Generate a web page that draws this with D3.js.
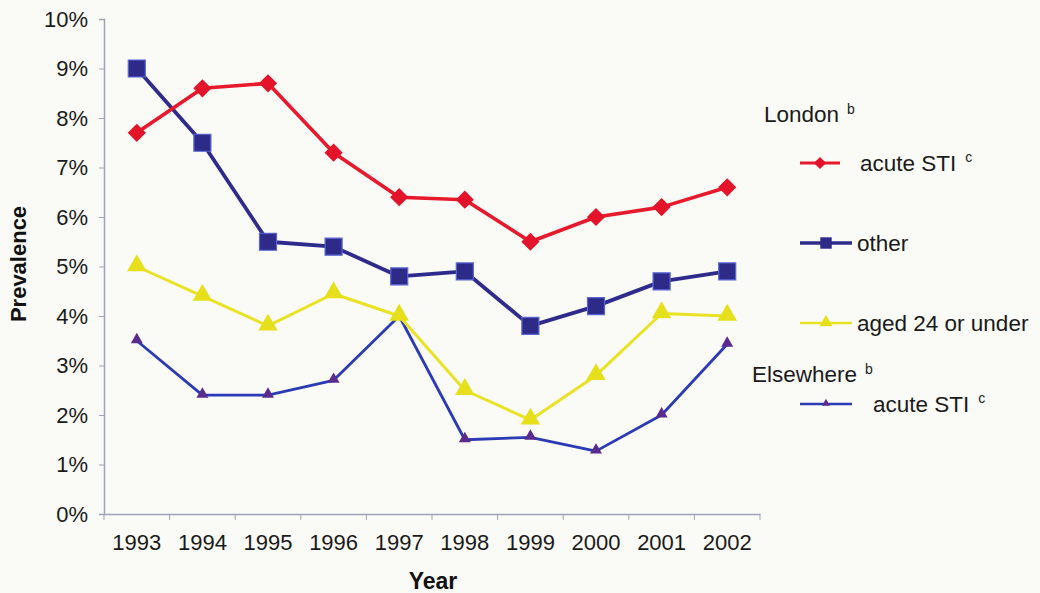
<!DOCTYPE html>
<html>
<head>
<meta charset="utf-8">
<script src="https://cdn.jsdelivr.net/npm/d3@7"></script>
<style>
  html, body { margin: 0; padding: 0; background: #fafaf6; }
  svg { display: block; font-family: "Liberation Sans", Arial, sans-serif; }
</style>
</head>
<body>
<svg id="chart" width="1040" height="593"></svg>
<script>
// Prevalence (%) by year
const years = ["1993","1994","1995","1996","1997","1998","1999","2000","2001","2002"];
const londonAcute = [7.7, 8.6, 8.7, 7.3, 6.4, 6.35, 5.5, 6.0, 6.2, 6.6];
const londonOther = [9.0, 7.5, 5.5, 5.4, 4.8, 4.9, 3.8, 4.2, 4.7, 4.9];
const londonYoung = [5.0, 4.4, 3.8, 4.45, 4.0, 2.5, 1.9, 2.8, 4.05, 4.0];
const elsewhereAcute = [3.5, 2.4, 2.4, 2.7, 4.0, 1.5, 1.55, 1.27, 2.0, 3.43];
const yTicks = [0, 1, 2, 3, 4, 5, 6, 7, 8, 9, 10];

const svg = d3.select("#chart");
const x = d3.scaleBand().domain(years).range([104, 760]);
const y = d3.scaleLinear().domain([0, 10]).range([514, 19]);
const axisColor = "#9ea3b9";

// y axis
const yAxis = svg.append("g").attr("transform", "translate(104,0)")
  .call(d3.axisLeft(y).tickValues(yTicks).tickFormat(d => d + "%").tickSize(5).tickPadding(11));
// x axis with ticks between categories
const xAxis = svg.append("g").attr("transform", "translate(0,514)")
  .call(d3.axisBottom(x).tickSize(0).tickPadding(20));
xAxis.selectAll(".tick").append("line")
  .attr("x1", -x.bandwidth() / 2).attr("x2", -x.bandwidth() / 2)
  .attr("y1", 0).attr("y2", 6).attr("stroke", axisColor);
xAxis.append("line")
  .attr("x1", x.range()[1]).attr("x2", x.range()[1])
  .attr("y1", 0).attr("y2", 6).attr("stroke", axisColor);
[yAxis, xAxis].forEach(g => {
  g.selectAll("path.domain").attr("stroke", axisColor).attr("stroke-width", 1.5);
  g.selectAll(".tick line").attr("stroke", axisColor);
  g.selectAll("text").attr("fill", "#1a1a1a").style("font-size", "22px")
    .style("font-family", "'Liberation Sans', Arial, sans-serif");
});

// axis titles
svg.append("text").attr("transform", "translate(26,264) rotate(-90)")
  .attr("text-anchor", "middle").attr("font-weight", "bold").attr("font-size", 22)
  .attr("fill", "#111").text("Prevalence");
svg.append("text").attr("x", 433).attr("y", 589)
  .attr("text-anchor", "middle").attr("font-weight", "bold").attr("font-size", 23)
  .attr("fill", "#111").text("Year");

const cx = (d, i) => x(years[i]) + x.bandwidth() / 2;
const line = d3.line().x((d, i) => cx(d, i)).y(d => y(d));

function drawSeries(values, opts) {
  const g = svg.append("g");
  g.append("path").datum(values).attr("d", line)
    .attr("fill", "none").attr("stroke", opts.stroke).attr("stroke-width", opts.width)
    .attr("stroke-linejoin", "round");
  g.selectAll("path.mk").data(values).join("path").attr("class", "mk")
    .attr("transform", (d, i) => `translate(${cx(d, i)},${y(d) + (opts.dy || 0)}) rotate(${opts.rotate || 0})`)
    .attr("d", d3.symbol().type(opts.symbol).size(opts.size))
    .attr("fill", opts.fill).attr("stroke", opts.markStroke || "none")
    .attr("stroke-width", opts.markStrokeWidth || 0);
}

const styles = {
  other: { stroke: "#2f2b8c", width: 3.8, symbol: d3.symbolSquare, size: 290, fill: "#2d2a88", markStroke: "#5a66d6", markStrokeWidth: 1.2 },
  young: { stroke: "#e9e225", width: 3, symbol: d3.symbolTriangle, size: 165, fill: "#e6df1c", dy: -1 },
  acute: { stroke: "#e8192c", width: 3.6, symbol: d3.symbolSquare, size: 165, fill: "#e3142a", rotate: 45 },
  elsewhere: { stroke: "#2b3ab5", width: 2.8, symbol: d3.symbolTriangle, size: 62, fill: "#5b2a8f", dy: -1 }
};

drawSeries(elsewhereAcute, styles.elsewhere);
drawSeries(londonYoung, styles.young);
drawSeries(londonOther, styles.other);
drawSeries(londonAcute, styles.acute);

// legend
const legend = svg.append("g").attr("font-size", 22.5).attr("fill", "#1a1a1a");
function heading(xp, yp, label) {
  const t = legend.append("text").attr("x", xp).attr("y", yp);
  t.append("tspan").text(label);
  t.append("tspan").attr("dx", 8).attr("dy", -8).attr("font-size", 14).text("b");
}
function item(yp, st, x1, x2, tx, label, sup) {
  const g = legend.append("g");
  g.append("line").attr("x1", x1).attr("x2", x2).attr("y1", yp).attr("y2", yp)
    .attr("stroke", st.stroke).attr("stroke-width", st.width * 0.9);
  g.append("path").attr("transform", `translate(${(x1 + x2) / 2},${yp + (st.dy || 0) * 0.5}) rotate(${st.rotate || 0})`)
    .attr("d", d3.symbol().type(st.symbol).size(st.size * 0.45))
    .attr("fill", st.fill);
  const t = g.append("text").attr("x", tx).attr("y", yp + 8);
  t.append("tspan").text(label);
  if (sup) t.append("tspan").attr("dx", 9).attr("dy", -9).attr("font-size", 14).text(sup);
}
heading(764, 122, "London");
item(163, styles.acute, 800, 840, 860, "acute STI", "c");
item(243, styles.other, 800, 852, 857, "other");
item(323, styles.young, 800, 852, 857, "aged 24 or under");
heading(752, 382, "Elsewhere");
item(404, styles.elsewhere, 800, 852, 873, "acute STI", "c");
</script>
</body>
</html>
